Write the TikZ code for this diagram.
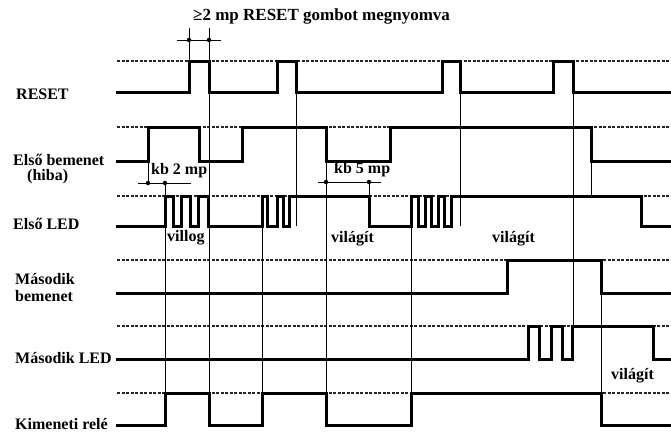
\documentclass[tikz,border=0pt]{standalone}
\usepackage{fontspec}
\setmainfont{Liberation Serif}
\begin{document}
\begin{tikzpicture}[x=1pt,y=-1pt,
  sig/.style={line width=3pt, line join=miter, line cap=rect},
  thin/.style={line width=0.9pt},
  hiline/.style={line width=1.2pt, dash pattern=on 3pt off 1.5pt, black!85},
  lbl/.style={anchor=west, inner sep=0pt, font=\fontsize{16}{18}\selectfont\bfseries},
  dot/.style={circle, fill, inner sep=0pt, minimum size=4.5pt}]
\useasboundingbox (0,0) rectangle (671,432);
\fill[white] (0,0) rectangle (671,432);

% high-level dashed lines
\foreach \y in {61,127,196,260,326,393}
  \draw[hiline] (117,\y) -- (671,\y);

% labels
\node[lbl] (lreset) at (16,94) {RESET};
\node[lbl] (lbem1) at (13,160) {Első bemenet};
\node[lbl] (lhiba) at (27,177) {(hiba)};
\node[lbl] (lled1) at (13,224) {Első LED};
\node[lbl] (lbem2a) at (15,279) {Második};
\node[lbl] (lbem2b) at (15,296) {bemenet};
\node[lbl] (lled2) at (15,358) {Második LED};
\node[lbl] (lrele) at (15,424) {Kimeneti relé};
\node[lbl, font=\fontsize{17}{19}\selectfont\bfseries] (ltop) at (193,16) {≥2 mp RESET gombot megnyomva};
\node[lbl] (lkb2) at (151,171) {kb 2 mp};
\node[lbl] (lkb5) at (334,170) {kb 5 mp};
\node[lbl] (lvillog) at (167,238) {villog};
\node[lbl] (lvil1) at (331,239) {világít};
\node[lbl] (lvil2) at (492,239) {világít};
\node[lbl] (lvil3) at (611,376) {világít};

% thin guide lines
\draw[thin] (189,28) -- (189,61);
\draw[thin] (209,28) -- (209,425);
\draw[thin] (177,40) -- (221,40);
\node[dot] (d1) at (189,40) {};
\node[dot] (d2) at (209,40) {};

\draw[thin] (148,161) -- (148,183);
\draw[thin] (165,183) -- (165,425);
\draw[thin] (138,183) -- (191,183);
\node[dot] (d3) at (148,183) {};
\node[dot] (d4) at (165,183) {};

\draw[thin] (262,196) -- (262,425);
\draw[thin] (296,92) -- (296,226);
\draw[thin] (326,161) -- (326,425);
\draw[thin] (318,182) -- (381,182);
\draw[thin] (369,182) -- (369,226);
\node[dot] (d5) at (326,182) {};
\node[dot] (d6) at (369,182) {};

\draw[thin] (411,196) -- (411,425);
\draw[thin] (460,92) -- (460,226);
\draw[thin] (573,92) -- (573,359);
\draw[thin] (591,161) -- (591,196);
\draw[thin] (601,293) -- (601,425);

% signals
\draw[sig] (117,92) -| (189,61) -| (209,92) -| (277,61) -| (296,92)
  -| (442,61) -| (460,92) -| (553,61) -| (573,92) -- (671,92);
\draw[sig] (117,161) -| (148,127) -| (199,161) -| (242,127) -| (326,161)
  -| (390,127) -| (591,161) -- (671,161);
\draw[sig] (117,226) -| (165,196) -| (173,226) -| (181,196) -| (190,226)
  -| (198,196) -| (208,226) -| (262,196) -| (267,226) -| (277,196)
  -| (283,226) -| (289,196) -| (369,226) -| (411,196) -| (418,226)
  -| (425,196) -| (431,226) -| (438,196) -| (444,226) -| (451,196)
  -| (641,226) -- (671,226);
\draw[sig] (117,293) -| (507,260) -| (601,293) -- (671,293);
\draw[sig] (117,359) -| (528,326) -| (539,359) -| (551,326) -| (562,359)
  -| (572,326) -| (653,359) -- (671,359);
\draw[sig] (117,425) -| (165,393) -| (209,425) -| (262,393) -| (326,425)
  -| (411,393) -| (601,425) -- (671,425);
\end{tikzpicture}
\end{document}
